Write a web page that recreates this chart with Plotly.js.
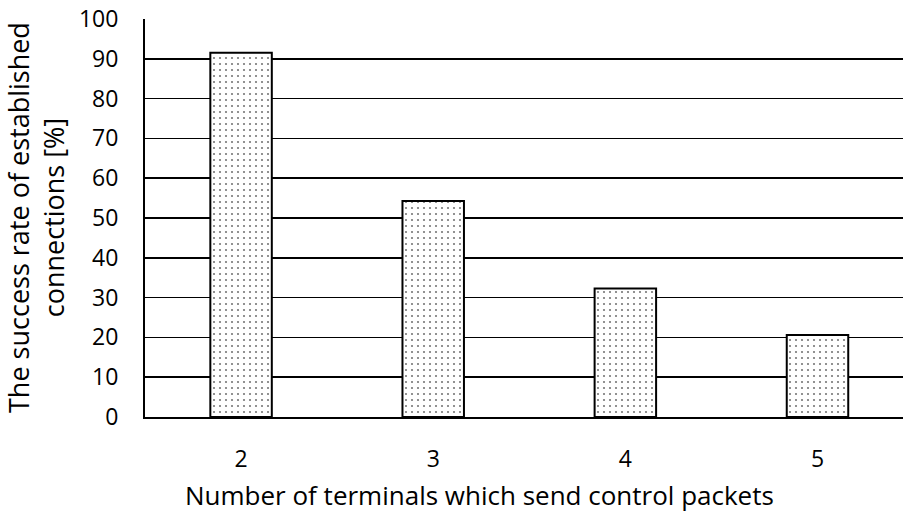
<!DOCTYPE html>
<html>
<head>
<meta charset="utf-8">
<script src="https://cdn.plot.ly/plotly-3.0.1.min.js"></script>
<style>html,body{margin:0;padding:0;background:#fff;}</style>
</head>
<body>
<div id="chart" style="width:903px;height:514px;"></div>
<script>
const categories = ['2', '3', '4', '5'];
const successRate = [91.5, 54.3, 32.3, 20.6];
const yTickVals = [0, 10, 20, 30, 40, 50, 60, 70, 80, 90, 100];
const xTitle = 'Number of terminals which send control packets';
const yTitle = 'The success rate of established<br>connections [%]';

const FONT = '"Open Sans", "Noto Sans", sans-serif';

const trace = {
  type: 'bar',
  x: categories,
  y: successRate,
  width: 0.32,
  marker: {
    color: '#ffffff',
    line: {color: '#000000', width: 2},
    pattern: {shape: '.', fgcolor: '#777777', bgcolor: '#ffffff', size: 6, solidity: 0.1}
  },
  hoverinfo: 'x+y'
};

const layout = {
  width: 903, height: 514, autosize: false,
  margin: {l: 145, r: 0, t: 19, b: 97},
  paper_bgcolor: '#ffffff', plot_bgcolor: '#ffffff',
  showlegend: false,
  font: {family: FONT, color: '#000000'},
  xaxis: {
    type: 'category',
    range: [-0.5, 3.445],
    showgrid: false,
    showline: true, linecolor: '#000000', linewidth: 2,
    ticks: '', ticklabelstandoff: 20,
    tickfont: {size: 23, family: FONT}
  },
  yaxis: {
    range: [0, 100],
    tickvals: yTickVals,
    showgrid: true, gridcolor: '#000000', gridwidth: 1.5,
    zeroline: false,
    showline: true, linecolor: '#000000', linewidth: 2,
    ticks: 'outside', ticklen: 20, tickcolor: 'rgba(0,0,0,0)',
    tickfont: {size: 23, family: FONT}
  },
  annotations: [{
    text: yTitle, textangle: -90,
    xref: 'paper', yref: 'paper',
    x: (36 - 145) / 758, y: 0.5,
    xanchor: 'center', yanchor: 'middle',
    showarrow: false,
    font: {size: 27, family: FONT}
  }, {
    text: xTitle,
    xref: 'paper', yref: 'paper',
    x: (479.5 - 145) / 758, y: (417 - 495) / 398,
    xanchor: 'center', yanchor: 'middle',
    showarrow: false,
    font: {size: 26, family: FONT}
  }]
};

Plotly.newPlot('chart', [trace], layout, {displayModeBar: false, staticPlot: true});
</script>
</body>
</html>
